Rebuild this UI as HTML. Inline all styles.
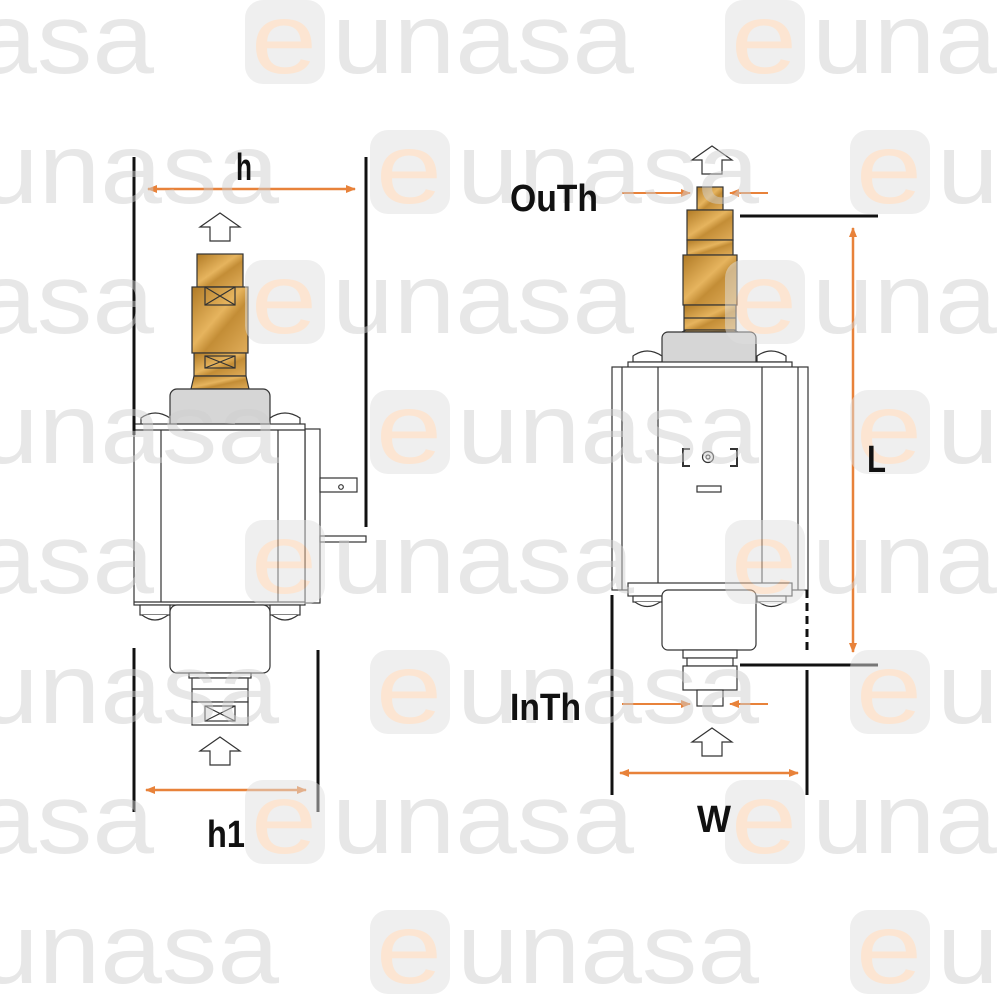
<!DOCTYPE html>
<html><head><meta charset="utf-8"><style>
html,body{margin:0;padding:0;background:#fff;width:1000px;height:1000px;overflow:hidden}
svg{display:block}
.wm{font-family:"Liberation Sans",sans-serif;font-size:100px;fill:#cfcfcf}
.we{font-family:"Liberation Sans",sans-serif;font-size:100px;fill:#f8cba4}
.lb{font-family:"Liberation Sans Narrow","Liberation Sans",sans-serif;font-weight:bold;font-size:38px;fill:#111}
</style></head><body>
<svg width="1000" height="1000" viewBox="0 0 1000 1000" xmlns="http://www.w3.org/2000/svg">
<defs>
<linearGradient id="br" x1="0" y1="0" x2="1" y2="1">
<stop offset="0" stop-color="#b07a25"/><stop offset="0.45" stop-color="#e6b45e"/><stop offset="0.6" stop-color="#c38d36"/><stop offset="1" stop-color="#e0ad5a"/>
</linearGradient>
<g id="wmk"><rect x="0" y="0" width="80" height="84" rx="18" fill="#dedede"/><text x="6" y="73" class="we" textLength="66" lengthAdjust="spacingAndGlyphs">e</text><text x="87" y="73" class="wm" textLength="302" lengthAdjust="spacingAndGlyphs">unasa</text></g>
<marker id="ah" markerWidth="10" markerHeight="10" refX="9" refY="5" orient="auto" markerUnits="userSpaceOnUse"><path d="M0,1 L10,5 L0,9 Z" fill="#e8823a"/></marker>
<g id="upar"><path d="M0,14 L20,0 L40,14 L30,14 L30,28 L10,28 L10,14 Z" fill="#fff" stroke="#333" stroke-width="1.2"/></g>
</defs>

<!-- LEFT PUMP -->
<g stroke="#333" stroke-width="1.2">
<use href="#upar" x="200" y="213"/>
<rect x="197" y="254" width="46" height="33" fill="url(#br)"/>
<rect x="192" y="287" width="56" height="66" fill="url(#br)"/>
<rect x="205" y="287" width="30" height="18" fill="none"/><path d="M205,287 L235,305 M235,287 L205,305" fill="none"/>
<rect x="194" y="353" width="52" height="23" fill="url(#br)"/>
<rect x="205" y="356" width="30" height="12" fill="none"/><path d="M205,356 L235,368 M235,356 L205,368" fill="none"/>
<path d="M194,376 L246,376 L249,389 L191,389 Z" fill="url(#br)"/>
<rect x="170" y="389" width="100" height="42" rx="7" fill="#d6d6d6"/>
<path d="M141,425 L141,418 Q155,408 170,418 L170,425 Z" fill="#fff"/>
<path d="M270,425 L270,418 Q285,408 300,418 L300,425 Z" fill="#fff"/>
<rect x="305" y="429" width="15" height="174" fill="#fff"/>
<rect x="134" y="424" width="171" height="181" fill="#fff"/>
<line x1="134" y1="430" x2="305" y2="430"/><line x1="134" y1="602" x2="305" y2="602"/>
<line x1="161" y1="430" x2="161" y2="602"/><line x1="278" y1="430" x2="278" y2="602"/>
<rect x="320" y="478" width="37" height="14" fill="#fff"/><circle cx="341" cy="487" r="2.3" fill="none"/>
<rect x="320" y="536" width="46" height="6" fill="#fff"/>
<rect x="140" y="605" width="30" height="10" fill="#fff"/><path d="M142,615 Q155,625 168,615" fill="#fff"/>
<rect x="270" y="605" width="30" height="10" fill="#fff"/><path d="M272,615 Q285,625 298,615" fill="#fff"/>
<rect x="170" y="605" width="100" height="68" rx="7" fill="#fff"/>
<rect x="189" y="673" width="62" height="5" fill="#fff"/>
<rect x="192" y="678" width="56" height="24" fill="#fff"/>
<line x1="192" y1="689" x2="248" y2="689"/>
<rect x="192" y="702" width="56" height="23" fill="#fff"/>
<rect x="205" y="706" width="30" height="15" fill="none"/><path d="M205,706 L235,721 M235,706 L205,721" fill="none"/>
<use href="#upar" x="200" y="737"/>
</g>
<g stroke="#111" stroke-width="3">
<line x1="134" y1="157" x2="134" y2="435"/><line x1="134" y1="648" x2="134" y2="812"/>
<line x1="366" y1="157" x2="366" y2="527"/><line x1="318" y1="650" x2="318" y2="812"/>
</g>
<g stroke="#e8823a" stroke-width="2.5">
<line x1="190" y1="189" x2="148" y2="189" marker-end="url(#ah)"/><line x1="190" y1="189" x2="355" y2="189" marker-end="url(#ah)"/>
<line x1="200" y1="790" x2="146" y2="790" marker-end="url(#ah)"/><line x1="200" y1="790" x2="306" y2="790" marker-end="url(#ah)"/>
</g>

<!-- RIGHT PUMP -->
<g stroke="#333" stroke-width="1.2">
<use href="#upar" x="692" y="146"/>
<rect x="697" y="187" width="26" height="23" fill="url(#br)"/>
<rect x="687" y="210" width="46" height="30" fill="url(#br)"/>
<rect x="687" y="240" width="46" height="15" fill="url(#br)"/>
<rect x="683" y="255" width="54" height="50" fill="url(#br)"/>
<rect x="684" y="305" width="52" height="25" fill="url(#br)"/>
<line x1="684" y1="318" x2="736" y2="318"/>
<path d="M686,330 L734,330 L738,332 L682,332 Z" fill="url(#br)"/>
<rect x="662" y="332" width="94" height="36" rx="6" fill="#d6d6d6"/>
<path d="M633,362 L633,356 Q647,346 662,356 L662,362 Z" fill="#fff"/>
<path d="M757,362 L757,356 Q771,346 786,356 L786,362 Z" fill="#fff"/>
<rect x="628" y="362" width="164" height="8" fill="#fff"/>
<rect x="612" y="367" width="196" height="223" fill="#fff"/>
<line x1="622" y1="367" x2="622" y2="590"/><line x1="658" y1="367" x2="658" y2="590"/>
<line x1="762" y1="367" x2="762" y2="590"/><line x1="798" y1="367" x2="798" y2="590"/>
<rect x="628" y="583" width="164" height="13" fill="#fff"/>
<rect x="633" y="596" width="29" height="6" fill="#fff"/><path d="M635,602 Q647,611 660,602" fill="#fff"/>
<rect x="757" y="596" width="29" height="6" fill="#fff"/><path d="M759,602 Q771,611 784,602" fill="#fff"/>
<rect x="662" y="590" width="94" height="60" rx="6" fill="#fff"/>
<rect x="683" y="650" width="54" height="8" fill="#fff"/>
<rect x="687" y="658" width="46" height="8" fill="#fff"/>
<rect x="683" y="666" width="54" height="24" fill="#fff"/>
<rect x="697" y="690" width="26" height="16" fill="#fff"/>
<use href="#upar" x="692" y="728"/>
<path d="M690,449 L683,449 L683,466 L690,466 M730,449 L737,449 L737,466 L730,466" fill="none" stroke-width="2"/>
<circle cx="708" cy="457" r="5.5" fill="none"/><circle cx="708" cy="457" r="2" fill="none"/>
<rect x="697" y="486" width="24" height="6" fill="none"/>
</g>
<g stroke="#111" stroke-width="3">
<line x1="740" y1="216" x2="878" y2="216"/><line x1="740" y1="665" x2="878" y2="665"/>
<line x1="612" y1="595" x2="612" y2="795"/><line x1="807" y1="670" x2="807" y2="795"/>
<line x1="807" y1="590" x2="807" y2="655" stroke-dasharray="8,5"/>
</g>
<g stroke="#e8823a" stroke-width="2.5">
<line x1="853" y1="440" x2="853" y2="228" marker-end="url(#ah)"/><line x1="853" y1="440" x2="853" y2="652" marker-end="url(#ah)"/>
<line x1="700" y1="773" x2="620" y2="773" marker-end="url(#ah)"/><line x1="700" y1="773" x2="798" y2="773" marker-end="url(#ah)"/>
</g>
<g stroke="#e8823a" stroke-width="2">
<line x1="622" y1="193" x2="690" y2="193" marker-end="url(#ah)"/><line x1="768" y1="193" x2="730" y2="193" marker-end="url(#ah)"/>
<line x1="622" y1="704" x2="690" y2="704" marker-end="url(#ah)"/><line x1="768" y1="704" x2="730" y2="704" marker-end="url(#ah)"/>
</g>

<!-- watermarks (semi-transparent overlay) -->
<g opacity="0.5">
<use href="#wmk" x="-235" y="0"/><use href="#wmk" x="245" y="0"/><use href="#wmk" x="725" y="0"/>
<use href="#wmk" x="-110" y="130"/><use href="#wmk" x="370" y="130"/><use href="#wmk" x="850" y="130"/>
<use href="#wmk" x="-235" y="260"/><use href="#wmk" x="245" y="260"/><use href="#wmk" x="725" y="260"/>
<use href="#wmk" x="-110" y="390"/><use href="#wmk" x="370" y="390"/><use href="#wmk" x="850" y="390"/>
<use href="#wmk" x="-235" y="520"/><use href="#wmk" x="245" y="520"/><use href="#wmk" x="725" y="520"/>
<use href="#wmk" x="-110" y="650"/><use href="#wmk" x="370" y="650"/><use href="#wmk" x="850" y="650"/>
<use href="#wmk" x="-235" y="780"/><use href="#wmk" x="245" y="780"/><use href="#wmk" x="725" y="780"/>
<use href="#wmk" x="-110" y="910"/><use href="#wmk" x="370" y="910"/><use href="#wmk" x="850" y="910"/>
</g>

<!-- labels on top -->
<text x="236" y="180" class="lb" textLength="16" lengthAdjust="spacingAndGlyphs">h</text>
<text x="207" y="847" class="lb" textLength="38" lengthAdjust="spacingAndGlyphs">h1</text>
<text x="510" y="211" class="lb" textLength="88" lengthAdjust="spacingAndGlyphs">OuTh</text>
<text x="510" y="720" class="lb" textLength="71" lengthAdjust="spacingAndGlyphs">InTh</text>
<text x="867" y="472" class="lb" textLength="19" lengthAdjust="spacingAndGlyphs">L</text>
<text x="697" y="832" class="lb" textLength="34" lengthAdjust="spacingAndGlyphs">W</text>
</svg>
</body></html>
